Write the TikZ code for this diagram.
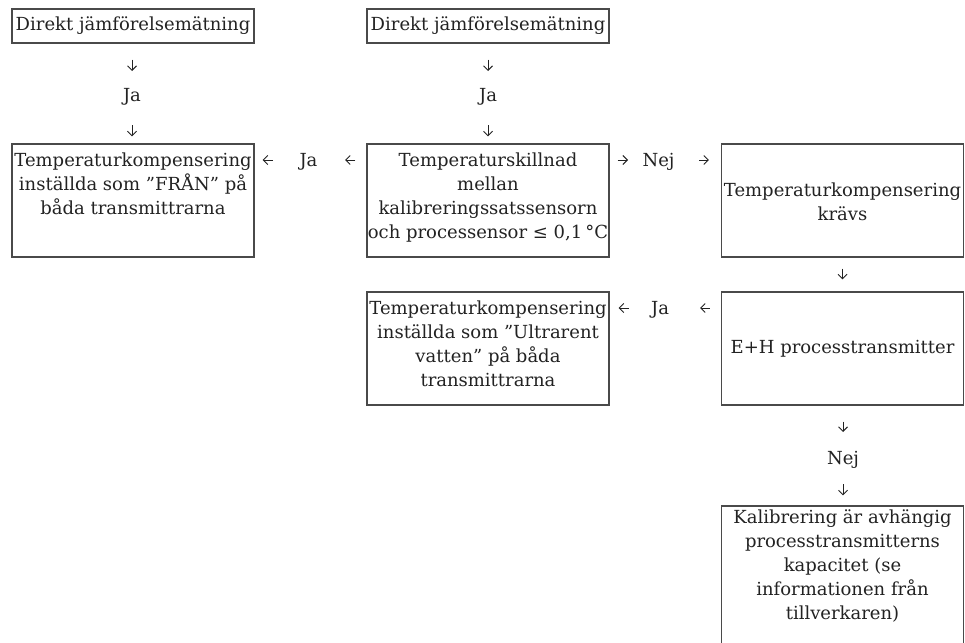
\documentclass[tikz,border=0pt]{standalone}
\usepackage{fontspec}
\setmainfont{DejaVu Serif}
\usetikzlibrary{arrows.meta}
\definecolor{txt}{HTML}{222222}
\definecolor{ln}{HTML}{4A4A4A}
\newcommand{\fs}{\fontsize{18pt}{24pt}\selectfont}
\newcommand{\celltop}[2]{\parbox[c][#1][t]{241pt}{\centering\strut #2}}
\newcommand{\cellmid}[2]{\parbox[c][#1][c]{241pt}{\centering\strut #2}}
\tikzset{
  box/.style={draw=ln, line width=1.1pt, inner sep=0pt, minimum width=242pt, text=txt, font=\fs},
  lbl/.style={inner sep=0pt, text=txt, font=\fs, text height=12.5pt, text depth=0pt},
  arr/.style={draw=txt, line width=1pt, -{Straight Barb[length=4.5pt,width=9pt]}}
}
\begin{document}
\begin{tikzpicture}[x=1pt,y=-1pt]
\useasboundingbox (0,0) rectangle (965,642);
\clip (0,0) rectangle (965,642);

% boxes
\node[box, minimum height=34pt] (A) at (133,26) {Direkt jämförelsemätning};
\node[box, minimum height=34pt] (B) at (488,26) {Direkt jämförelsemätning};
\node[box, minimum height=113pt] (C) at (133,200.5)
  {\celltop{101.6pt}{Temperaturkompensering\\inställda som ”FRÅN” på\\båda transmittrarna}};
\node[box, minimum height=113pt] (D) at (488,200.5)
  {\celltop{101.6pt}{Temperaturskillnad\\mellan\\kalibreringssatssensorn\\och processensor ≤ 0,1\,°C}};
\node[box, minimum height=113pt] (E) at (842.5,200.5)
  {\cellmid{101.6pt}{Temperaturkompensering\\krävs}};
\node[box, minimum height=113pt] (F) at (842.5,348.5)
  {\cellmid{101.6pt}{E+H processtransmitter}};
\node[box, minimum height=113pt] (G) at (488,348.5)
  {\celltop{101.6pt}{Temperaturkompensering\\inställda som ”Ultrarent\\vatten” på båda\\transmittrarna}};
\node[box, minimum height=150pt] (H) at (842.5,581)
  {\celltop{148.6pt}{Kalibrering är avhängig\\processtransmitterns\\kapacitet (se\\informationen från\\tillverkaren)}};

% labels
\node[lbl] (ja1) at (132,95) {Ja};
\node[lbl] (ja2) at (488,95) {Ja};
\node[lbl] (ja3) at (308.5,160) {Ja};
\node[lbl] (nej1) at (658.5,160) {Nej};
\node[lbl] (ja4) at (660,308) {Ja};
\node[lbl] (nej2) at (843,458) {Nej};

% connectors
\draw[arr, shorten <=16pt, shorten >=24pt] (ja1 |- A.south) -- (ja1.center);
\draw[arr, shorten <=30pt, shorten >=7pt] (ja1.center) -- (ja1 |- C.north);
\draw[arr, shorten <=16pt, shorten >=24pt] (ja2 |- B.south) -- (ja2.center);
\draw[arr, shorten <=30pt, shorten >=7pt] (ja2.center) -- (ja2 |- D.north);

\draw[arr, shorten <=11pt, shorten >=36.5pt] (ja3 -| D.west) -- (ja3.center);
\draw[arr, shorten <=35.5pt, shorten >=8pt] (ja3.center) -- (ja3 -| C.east);

\draw[arr, shorten <=8pt, shorten >=30.5pt] (nej1 -| D.east) -- (nej1.center);
\draw[arr, shorten <=40.5pt, shorten >=12pt] (nej1.center) -- (nej1 -| E.west);

\draw[arr, shorten <=11pt, shorten >=12pt] (E.south) -- (F.north);

\draw[arr, shorten <=11pt, shorten >=40pt] (ja4 -| F.west) -- (ja4.center);
\draw[arr, shorten <=31pt, shorten >=9pt] (ja4.center) -- (ja4 -| G.east);

\draw[arr, shorten <=16pt, shorten >=26pt] (nej2 |- F.south) -- (nej2.center);
\draw[arr, shorten <=26pt, shorten >=10pt] (nej2.center) -- (nej2 |- H.north);
\end{tikzpicture}
\end{document}
